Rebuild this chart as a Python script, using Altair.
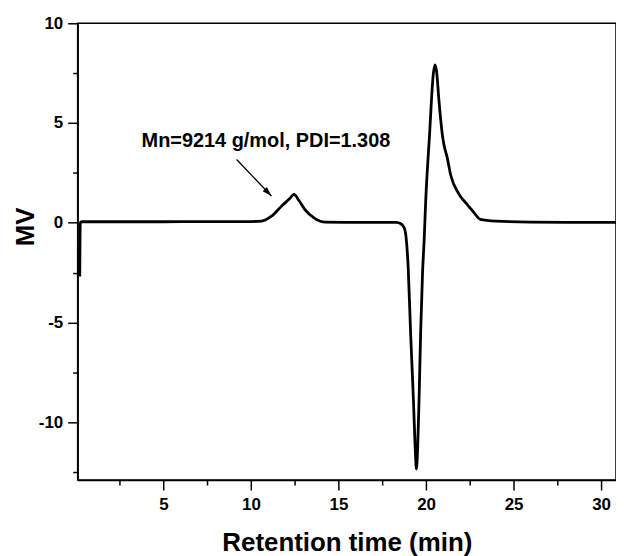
import altair as alt
import pandas as pd

# ---- data ----
time_min = [0.22, 0.25, 0.35, 2.0, 5.0, 8.0, 10.0, 10.6, 11.17, 11.74, 12.2, 12.46,
            12.75, 13.07, 13.64, 14.24, 16.0, 18.3, 18.56, 18.75, 18.84, 18.98, 19.12,
            19.28, 19.38, 19.45, 19.52, 19.6, 19.69, 19.8, 19.89, 19.98, 20.2, 20.42,
            20.51, 20.6, 20.74, 20.93, 21.02, 21.2, 21.4, 21.87, 22.35, 22.7, 23.1,
            24.0, 26.0, 28.0, 30.85]
mv = [-2.7, 0.0, 0.05, 0.05, 0.05, 0.06, 0.06, 0.08, 0.33, 0.83, 1.2, 1.42,
      1.1, 0.67, 0.22, 0.03, 0.02, 0.02, -0.05, -0.25, -0.58, -2.25, -5.57,
      -8.9, -11.3, -12.35, -11.3, -8.9, -5.57, -2.5, -0.9, 1.08, 4.42, 7.5,
      7.92, 7.6, 6.1, 4.42, 3.92, 3.3, 2.42, 1.45, 0.92, 0.55, 0.17,
      0.08, 0.03, 0.02, 0.02]

x_major = [5, 10, 15, 20, 25, 30]
x_minor = [2.5, 7.5, 12.5, 17.5, 22.5, 27.5]
y_major = [-10, -5, 0, 5, 10]
y_minor = [-12.5, -7.5, -2.5, 2.5, 7.5]
x_domain = [0.1, 30.85]
y_domain = [-12.9, 10]

annot_text = ["Mn=9214 g/mol, PDI=1.308"]
annot_x = [3.75]
annot_y = [3.79]
arrow_x = [9.18]
arrow_y = [3.17]
arrow_x2 = [11.17]
arrow_y2 = [1.34]

FONT = "Liberation Sans"

df = pd.DataFrame({"t": time_min, "mv": mv})
ann = pd.DataFrame({"label": annot_text, "x": annot_x, "y": annot_y})
arr = pd.DataFrame({"x": arrow_x, "y": arrow_y, "x2": arrow_x2, "y2": arrow_y2})

xs = alt.Scale(domain=x_domain, nice=False, zero=False)
ys = alt.Scale(domain=y_domain, nice=False, zero=False)

LABEL_EXPR = "datum.value < 0 ? '-' + abs(datum.value) : '' + datum.value"

common_axis = dict(grid=False, tickColor="black", tickWidth=1.5, domainColor="black",
                   domainWidth=1.5, labelFont=FONT, labelFontWeight="bold",
                   labelColor="black", labelFontSize=17, titleFont=FONT,
                   titleFontWeight="bold", titleColor="black", titleFontSize=26,
                   labelFlush=False, labelOverlap=False, labelExpr=LABEL_EXPR)

x_axis = alt.Axis(values=x_major, tickSize=10, labelPadding=7, title="Retention time (min)",
                  titlePadding=17, orient="bottom", **common_axis)
y_axis = alt.Axis(values=y_major, tickSize=10, labelPadding=5, title="MV",
                  titleX=-44, titleY=204, titleBaseline="alphabetic",
                  titleAlign="center", orient="left", **common_axis)

x_axis_minor = alt.Axis(values=x_minor, tickSize=5, labels=False, domain=False, title=None,
                        grid=False, tickColor="black", tickWidth=1.5, orient="bottom")
y_axis_minor = alt.Axis(values=y_minor, tickSize=5, labels=False, domain=False, title=None,
                        grid=False, tickColor="black", tickWidth=1.5, orient="left")

line = alt.Chart(df).mark_line(color="black", strokeWidth=2.8, interpolate="monotone",
                               clip=True).encode(
    x=alt.X("t:Q", scale=xs, axis=x_axis),
    y=alt.Y("mv:Q", scale=ys, axis=y_axis),
)

minor = alt.Chart(df).mark_point(opacity=0).encode(
    x=alt.X("t:Q", scale=xs, axis=x_axis_minor),
    y=alt.Y("mv:Q", scale=ys, axis=y_axis_minor),
)

text = alt.Chart(ann).mark_text(font=FONT, fontSize=20, fontWeight="bold", color="black",
                                align="left", baseline="alphabetic").encode(
    x=alt.X("x:Q", scale=xs, axis=None), y=alt.Y("y:Q", scale=ys, axis=None), text="label:N")

rule = alt.Chart(arr).mark_rule(color="black", strokeWidth=1.3).encode(
    x=alt.X("x:Q", scale=xs, axis=None), y=alt.Y("y:Q", scale=ys, axis=None),
    x2="x2:Q", y2="y2:Q")

head = alt.Chart(arr).mark_point(shape="M0,0L-0.5,1.6L0.5,1.6Z", filled=True, color="black",
                                 opacity=1, size=144, angle=136).encode(
    x=alt.X("x2:Q", scale=xs, axis=None), y=alt.Y("y2:Q", scale=ys, axis=None))

chart = alt.layer(line, minor, rule, head, text).resolve_axis(
    x="independent", y="independent"
).properties(
    width=541, height=459,
    autosize=alt.AutoSizeParams(type="none"),
    padding={"left": 70, "top": 14, "right": 0, "bottom": 80},
    background="white",
).configure_view(stroke="black", strokeWidth=1.5)

chart.save("out.html", embed_options={"renderer": "svg", "actions": False})
